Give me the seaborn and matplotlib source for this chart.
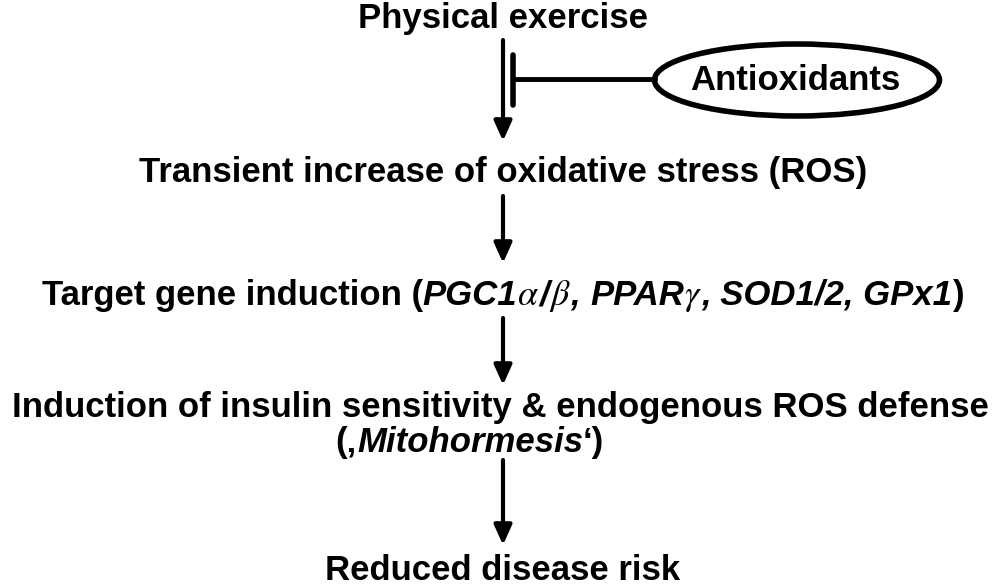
import matplotlib
matplotlib.use("Agg")
import matplotlib.pyplot as plt
from matplotlib.patches import Ellipse
import seaborn as sns

# ── content ──────────────────────────────────────────────
# each line is a list of (text, style) runs; style: b = bold, bi = bold italic, g = greek (math)
line_exercise = [("Physical exercise", "b")]
line_ros = [("Transient increase of oxidative stress (ROS)", "b")]
line_genes = [("Target gene induction (", "b"), ("PGC1", "bi"), (r"$\alpha$", "g"), ("/", "bi"),
              (r"$\beta$", "g"), (", ", "bi"), ("PPAR", "bi"), (r"$\gamma$", "g"),
              (", SOD1/2, GPx1", "bi"), (")", "b")]
line_insulin = [("Induction of insulin sensitivity & endogenous ROS defense", "b")]
line_mito = [("(\u201a", "b"), ("Mitohormesis", "bi"), ("\u2018)", "b")]
line_risk = [("Reduced disease risk", "b")]
inhibitor_label = "Antioxidants"

sns.set_theme(style="white")
plt.rcParams["font.family"] = ["Liberation Sans", "DejaVu Sans"]
plt.rcParams["mathtext.fontset"] = "stix"
plt.rcParams["text.color"] = "black"

fig = plt.figure(figsize=(10, 5.85), dpi=100)
ax = fig.add_axes([0, 0, 1, 1])
ax.set_xlim(0, 1000)
ax.set_ylim(585, 0)
ax.axis("off")
fig.canvas.draw()
renderer = fig.canvas.get_renderer()

FS = 25
STYLES = {"b": dict(weight="bold"), "bi": dict(weight="bold", style="italic"),
          "g": dict(weight="normal", fontsize=FS + 1)}


def draw_line(runs, cx, y):
    # draw runs once to measure, then shift to center
    texts = []
    x = 0
    for txt, st in runs:
        kw = dict(fontsize=FS, va="baseline", ha="left", color="black")
        kw.update(STYLES[st])
        t = ax.text(x, y, txt, **kw)
        w = t.get_window_extent(renderer).width
        texts.append((t, w))
        x += w
    start = cx - x / 2
    for t, w in texts:
        t.set_x(start)
        start += w


cx = 503
draw_line(line_exercise, cx, 28)
draw_line(line_ros, cx, 182)
draw_line(line_genes, cx, 305)
draw_line(line_insulin, 500, 417)
draw_line(line_mito, 470, 452)
draw_line(line_risk, cx, 580)

arrow = dict(arrowstyle="-|>,head_length=1.0,head_width=0.45", color="black", lw=3,
             shrinkA=0, shrinkB=0)
for y0, y1 in [(40, 141), (196, 263), (318, 385), (460, 545)]:
    ax.annotate("", xy=(503, y1), xytext=(503, y0), arrowprops=arrow)

# inhibition by antioxidants
ax.plot([513, 513], [55, 105], color="black", lw=4)
ax.plot([513, 655], [79, 79], color="black", lw=3.5)
ax.add_patch(Ellipse((797, 80), 285, 72, fill=False, edgecolor="black", lw=4))
ax.text(795, 80, inhibitor_label, fontsize=FS, weight="bold", ha="center", va="center",
        color="black")

fig.savefig("out.png", dpi=100)
